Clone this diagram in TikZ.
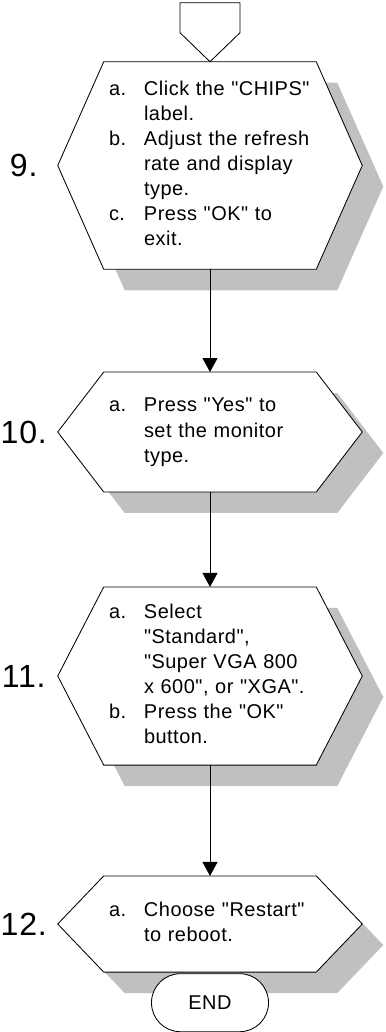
\documentclass[tikz,border=0pt]{standalone}
\usepackage{fontspec}
\setmainfont{Liberation Sans}[LetterSpace=2.5, Ligatures=TeXOff]
\usepackage{array}
\usetikzlibrary{arrows.meta,positioning,calc,backgrounds}
\definecolor{shadowgray}{HTML}{C0C0C0}

% hexagon round a step node, shifted by #2
\newcommand{\hexpath}[2]{([shift={#2}]#1.north west) -- ([shift={#2}]#1.north east)
  -- ([shift={#2},xshift=1.15cm]#1.east) -- ([shift={#2}]#1.south east)
  -- ([shift={#2}]#1.south west) -- ([shift={#2},xshift=-1.15cm]#1.west) -- cycle}

\begin{document}
\begin{tikzpicture}[
    stepbox/.style={minimum width=5.3cm, inner xsep=0.125cm, inner ysep=0pt, text width=5.05cm, align=left, font=\fontsize{14.2}{17.8}\selectfont},
    numlabel/.style={font=\fontsize{22.8}{24}\selectfont},
    endbox/.style={draw, fill=white, rounded corners=0.72cm, minimum width=2.925cm, minimum height=1.45cm, line width=0.6pt, font=\fontsize{14.2}{17.8}\selectfont},
    arrow/.style={-{Triangle[length=0.35cm, width=0.375cm]}, line width=0.6pt},
    outline/.style={draw, fill=white, line width=0.6pt}
]
\useasboundingbox (0,0) rectangle (9.65,-25.8);

% Step 9
\node[stepbox, minimum height=5.175cm] (s9) at (5.25,-4.1375) {\begin{tabular}{@{}p{0.875cm}@{}l@{}}
a. & Click the "CHIPS"\\
   & label.\\
b. & Adjust the refresh\\
   & rate and display\\
   & type.\\
c. & Press "OK" to\\
   & exit.
\end{tabular}};

% Step 10
\node[stepbox, minimum height=2.985cm] (s10) at (5.25,-10.8) {\begin{tabular}{@{}p{0.875cm}@{}l@{}}
a. & Press "Yes" to\\
   & set the monitor\\
   & type.
\end{tabular}};

% Step 11
\node[stepbox, minimum height=4.44cm] (s11) at (5.25,-16.9) {\begin{tabular}{@{}p{0.875cm}@{}l@{}}
a. & Select\\
   & "Standard",\\
   & "Super VGA 800\\
   & x 600", or "XGA".\\
b. & Press the "OK"\\
   & button.
\end{tabular}};

% Step 12
\node[stepbox, minimum height=2.39cm] (s12) at (5.25,-23.1) {\begin{tabular}{@{}p{0.875cm}@{}l@{}}
a. & Choose "Restart"\\
   & to reboot.
\end{tabular}};

% Step numbers
\node[numlabel] (n9) at ($(s9.west)+(-2.0,0)$) {9.};
\node[numlabel] (n10) at ($(s10.west)+(-2.0,0)$) {10.};
\node[numlabel] (n11) at ($(s11.west)+(-2.0,0)$) {11.};
\node[numlabel] (n12) at ($(s12.west)+(-2.0,0)$) {12.};

% Hexagons and their shadows
\begin{scope}[on background layer]
  \foreach \s in {s9,s10,s11,s12} \fill[shadowgray] \hexpath{\s}{(0.525,-0.525)};
  \foreach \s in {s9,s10,s11,s12} \path[outline] \hexpath{\s}{(0,0)};
\end{scope}

% Off-page connector
\draw[outline] (s9.north) -- ++(-0.75,0.725) -- ++(0,0.75) -- ++(1.5,0) -- ++(0,-0.75) -- cycle;

% End
\node[endbox, below=0.03cm of s12] (end) {END};

% Arrows
\draw[arrow] (s9) -- (s10);
\draw[arrow] (s10) -- (s11);
\draw[arrow] (s11) -- (s12);

\end{tikzpicture}
\end{document}
